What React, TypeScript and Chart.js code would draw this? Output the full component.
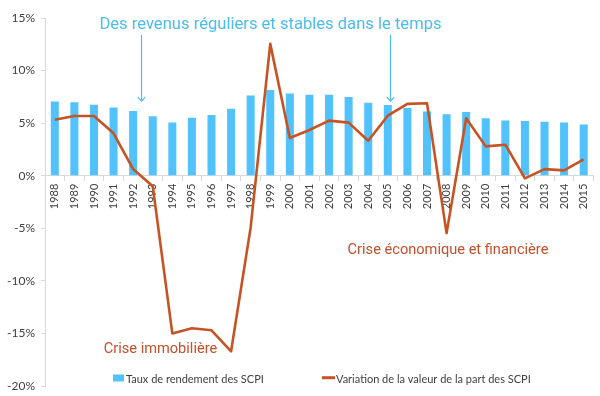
import React, { useEffect, useRef } from "react";
import { Chart, registerables } from "chart.js";

Chart.register(...registerables);

const years = [
  "1988", "1989", "1990", "1991", "1992", "1993", "1994", "1995", "1996", "1997",
  "1998", "1999", "2000", "2001", "2002", "2003", "2004", "2005", "2006", "2007",
  "2008", "2009", "2010", "2011", "2012", "2013", "2014", "2015",
];

const tauxRendement = [
  7.07, 6.98, 6.76, 6.48, 6.16, 5.65, 5.05, 5.52, 5.78, 6.38,
  7.62, 8.16, 7.81, 7.71, 7.71, 7.49, 6.95, 6.73, 6.44, 6.1,
  5.84, 6.06, 5.46, 5.24, 5.21, 5.14, 5.05, 4.86,
];

const variationValeur = [
  5.33, 5.68, 5.68, 4.03, 0.63, -1.0, -15.0, -14.5, -14.7, -16.7,
  -4.9, 12.54, 3.59, 4.35, 5.24, 5.05, 3.33, 5.71, 6.83, 6.89,
  -5.46, 5.46, 2.79, 2.95, -0.25, 0.63, 0.51, 1.56,
];

const yTicks = [15, 10, 5, 0, -5, -10, -15, -20];

const seriesNames = ["Taux de rendement des SCPI", "Variation de la valeur de la part des SCPI"];
const titleText = "Des revenus réguliers et stables dans le temps";
const crisisLabels = ["Crise immobilière", "Crise économique et financière"];
// arrows point at these (fractional) category positions
const arrowPositions = [4.4, 17.1];

const BAR_COLOR = "#51C2FB";
const LINE_COLOR = "#C65324";
const BLUE_TEXT = "#4CBDEB";
const ORANGE_TEXT = "#C4502A";
const AXIS_COLOR = "#D9D9D9";
const LABEL_COLOR = "#404040";

const overlayPlugin = {
  id: "overlay",
  afterDraw(chart: any) {
    const ctx = chart.ctx as CanvasRenderingContext2D;
    const xs = chart.scales.x;
    const ys = chart.scales.y;
    ctx.save();

    // Title annotation
    ctx.fillStyle = BLUE_TEXT;
    ctx.font = "16.6px Roboto";
    ctx.textAlign = "center";
    ctx.textBaseline = "alphabetic";
    ctx.fillText(titleText, 270.5, 28.5);

    // Arrows
    ctx.strokeStyle = BLUE_TEXT;
    ctx.lineWidth = 1.2;
    arrowPositions.forEach((p) => {
      const x = Math.round(xs.getPixelForValue(p)) + 0.5;
      const y0 = 35;
      const y1 = ys.getPixelForValue(7.1);
      ctx.beginPath();
      ctx.moveTo(x, y0);
      ctx.lineTo(x, y1);
      ctx.stroke();
      ctx.beginPath();
      ctx.moveTo(x - 3.7, y1 - 4);
      ctx.lineTo(x, y1);
      ctx.lineTo(x + 3.7, y1 - 4);
      ctx.stroke();
    });

    // Crisis labels
    ctx.fillStyle = ORANGE_TEXT;
    ctx.font = "14.6px Roboto";
    ctx.fillText(crisisLabels[0], 160.5, 353);
    ctx.fillText(crisisLabels[1], 448, 254);

    // Legend
    ctx.textAlign = "left";
    ctx.font = "11px Lato";
    ctx.fillStyle = BAR_COLOR;
    ctx.fillRect(113, 374.5, 11, 7);
    ctx.fillStyle = LABEL_COLOR;
    ctx.fillText(seriesNames[0], 126, 382.5);
    ctx.strokeStyle = LINE_COLOR;
    ctx.lineWidth = 3;
    ctx.beginPath();
    ctx.moveTo(322, 377.7);
    ctx.lineTo(335, 377.7);
    ctx.stroke();
    ctx.fillStyle = LABEL_COLOR;
    ctx.fillText(seriesNames[1], 336, 382.5);

    ctx.restore();
  },
};

export default function App() {
  const ref = useRef<HTMLCanvasElement>(null);

  useEffect(() => {
    if (!ref.current) return;
    const chart = new Chart(ref.current, {
      type: "bar",
      data: {
        labels: years,
        datasets: [
          {
            type: "line",
            label: seriesNames[1],
            data: variationValeur,
            borderColor: LINE_COLOR,
            backgroundColor: LINE_COLOR,
            borderWidth: 2.6,
            pointRadius: 0,
            tension: 0,
            order: 0,
            borderJoinStyle: "round",
          } as any,
          {
            type: "bar",
            label: seriesNames[0],
            data: tauxRendement,
            backgroundColor: BAR_COLOR,
            borderWidth: 0,
            barPercentage: 0.41,
            categoryPercentage: 1,
            order: 1,
          },
        ],
      },
      options: {
        responsive: false,
        animation: false,
        events: [],
        layout: { padding: { top: 18, bottom: 10, right: 6, left: 0 } },
        plugins: {
          legend: { display: false },
          tooltip: { enabled: false },
          title: { display: false },
        },
        scales: {
          x: {
            type: "category",
            position: { y: 0 } as any,
            afterFit: (scale: any) => {
              scale.paddingTop = 0;
              scale.paddingBottom = 0;
            },
            grid: {
              drawOnChartArea: false,
              drawTicks: true,
              tickLength: 5,
              color: AXIS_COLOR,
              offset: true,
            },
            border: { color: AXIS_COLOR, width: 1 },
            ticks: {
              autoSkip: false,
              minRotation: 90,
              maxRotation: 90,
              padding: 3,
              color: LABEL_COLOR,
              font: { family: "Lato", size: 11 },
            },
          },
          y: {
            min: -20,
            max: 15,
            afterFit: (scale: any) => {
              scale.width = 45;
              scale.paddingTop = 0;
              scale.paddingBottom = 0;
            },
            afterBuildTicks: (scale: any) => {
              scale.ticks = yTicks.map((v) => ({ value: v }));
            },
            grid: {
              drawOnChartArea: false,
              drawTicks: true,
              tickLength: 4,
              color: AXIS_COLOR,
            },
            border: { color: AXIS_COLOR, width: 1 },
            ticks: {
              padding: 6,
              color: LABEL_COLOR,
              font: { family: "Lato", size: 12 },
              callback: (v: any) => `${v}%`,
            },
          },
        },
      },
      plugins: [overlayPlugin],
    });
    return () => chart.destroy();
  }, []);

  return (
    <div style={{ position: "fixed", left: 0, top: 0, width: 600, height: 396, background: "#fff" }}>
      <canvas ref={ref} width={600} height={396} />
    </div>
  );
}
